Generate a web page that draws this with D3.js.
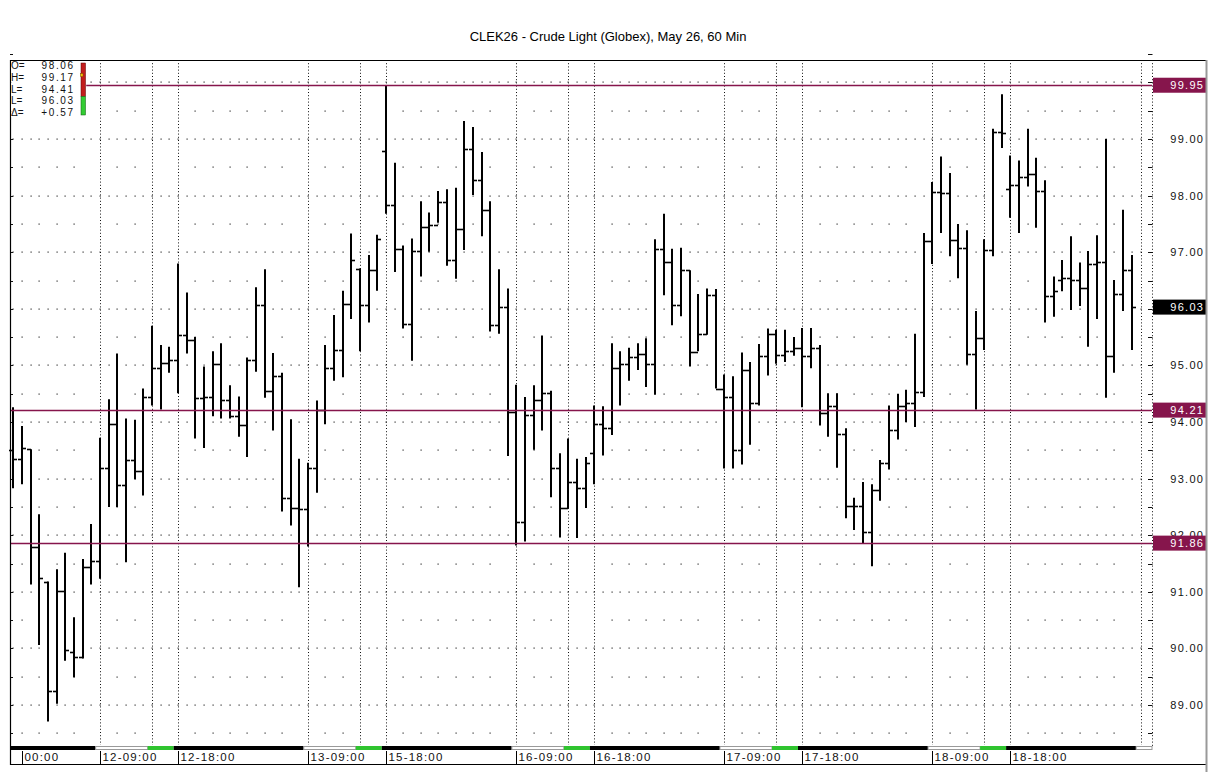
<!DOCTYPE html>
<html><head><meta charset="utf-8">
<script src="https://cdn.jsdelivr.net/npm/d3@7"></script>
<style>
body{margin:0;background:#fff;}
text{font-family:"Liberation Sans",Arial,Helvetica,sans-serif;}
</style>
</head><body>
<svg id="c" width="1213" height="772"></svg>
<script>
// ---------------- DATA ----------------
const chartTitle = "CLEK26 - Crude Light (Globex), May 26, 60 Min";
const opens = [93.50,93.35,93.52,91.80,91.18,89.25,91.02,89.94,89.84,91.43,
91.54,93.19,93.96,92.89,93.33,93.14,94.45,94.95,95.04,95.10,
95.54,95.45,94.43,94.44,95.03,94.39,94.11,93.94,95.10,96.07,
94.54,94.81,92.66,92.48,92.46,93.19,94.21,94.95,95.27,96.09,
96.70,96.07,96.68,98.78,97.84,97.06,95.74,97.02,97.45,97.48,
97.89,96.87,97.41,98.82,98.27,97.75,95.71,96.03,94.18,92.23,
94.13,94.38,94.51,93.19,92.48,92.94,92.83,93.45,93.96,93.89,
94.95,95.03,95.15,95.21,95.03,97.06,96.82,96.07,96.68,95.23,
95.55,96.25,94.59,94.44,93.50,94.92,94.33,95.16,95.55,95.19,
95.25,95.31,95.17,95.31,94.16,94.29,93.78,92.52,92.52,92.06,
92.79,93.27,93.85,94.29,94.33,94.53,97.19,98.07,98.05,97.21,
97.08,95.21,95.48,97.04,99.12,98.12,98.19,98.33,98.38,98.08,
96.22,96.51,96.55,96.51,96.36,96.79,96.82,95.17,96.26,96.68];
const highs = [94.26,93.93,93.52,92.37,91.18,91.40,91.69,90.55,91.58,92.20,
93.72,94.40,95.21,94.06,94.04,94.59,95.70,95.36,95.33,96.80,
96.29,95.50,94.98,95.25,95.39,94.65,94.45,95.14,96.38,96.70,
95.22,94.87,94.05,93.35,93.28,94.38,95.36,95.89,96.32,97.33,
96.71,96.95,97.31,99.95,98.58,97.12,97.24,97.90,97.70,98.08,
98.11,98.14,99.32,99.21,98.77,97.90,96.70,96.36,94.66,94.44,
94.65,95.53,94.55,93.45,93.71,93.35,93.38,94.29,94.28,95.39,
95.25,95.31,95.39,95.48,97.23,97.68,97.06,97.08,96.68,96.26,
96.36,96.35,94.84,94.81,95.23,95.06,95.38,95.65,95.63,95.63,
95.50,95.66,95.66,95.36,94.51,94.51,93.89,92.66,92.94,92.90,
93.33,94.29,94.50,94.57,95.56,97.34,98.24,98.69,98.40,97.50,
97.39,95.96,97.23,99.18,99.79,98.71,98.62,99.18,98.67,98.27,
96.57,96.86,97.28,96.82,97.02,97.30,99.00,96.51,97.75,96.95];
const lows = [92.83,92.90,91.13,90.06,88.71,89.02,89.78,89.49,89.82,91.13,
91.23,92.50,92.50,91.52,92.99,92.70,94.29,94.22,94.87,94.51,
95.21,93.71,93.54,94.10,94.06,94.06,93.74,93.38,94.89,94.43,
93.85,92.42,92.17,91.08,91.80,92.75,93.96,94.73,94.79,95.82,
95.25,95.76,96.32,97.68,96.65,95.65,95.08,96.57,97.01,97.52,
96.76,96.53,97.04,98.01,97.28,95.60,95.56,93.40,91.82,91.89,
93.51,93.85,92.67,91.96,92.48,91.95,92.48,92.90,93.41,93.77,
94.29,94.73,94.92,94.62,94.48,96.24,95.71,95.87,94.98,95.25,
95.54,94.59,93.18,93.18,93.25,93.60,94.29,94.82,95.03,95.06,
95.17,94.26,94.95,93.94,93.74,93.19,92.30,92.09,91.86,91.45,
92.61,93.16,93.69,94.00,93.91,94.44,96.79,97.34,96.93,96.54,
95.01,94.22,95.27,96.93,98.84,97.61,97.34,98.16,97.43,95.76,
95.86,96.31,95.98,96.05,95.33,95.82,94.43,94.87,95.96,95.27];
const closes = [93.35,93.54,91.80,91.24,89.25,91.02,89.97,89.84,91.43,91.54,
93.19,93.96,92.89,93.33,93.14,94.45,94.95,95.04,95.10,95.54,
95.45,94.43,94.44,95.03,94.39,94.11,93.94,95.10,96.07,94.54,
94.81,92.66,92.48,92.46,93.19,94.21,94.95,95.27,96.09,96.86,
96.07,96.68,97.23,97.84,97.06,95.74,97.02,97.45,97.48,97.89,
96.87,97.41,98.82,98.27,97.75,95.71,96.03,94.18,92.23,94.13,
94.38,94.51,93.19,92.48,92.94,92.83,93.27,93.96,93.89,94.95,
95.03,95.15,95.21,95.03,97.06,96.82,96.07,96.68,95.23,95.55,
96.25,94.59,94.44,93.50,94.92,94.33,95.16,95.55,95.19,95.25,
95.31,95.17,95.31,94.16,94.29,93.78,92.52,92.52,92.06,92.79,
93.27,93.85,94.29,94.33,94.53,97.19,98.07,98.05,97.21,97.08,
95.21,95.48,97.04,99.12,99.10,98.19,98.33,98.38,98.08,96.22,
96.31,96.55,96.51,96.36,96.79,96.82,95.17,96.26,96.68,96.03];

const timeLabels    = ["00:00","12-09:00","12-18:00","13-09:00","15-18:00","16-09:00","16-18:00","17-09:00","17-18:00","18-09:00","18-18:00"];
const timeLabelBars = [1,10,19,34,43,58,67,82,91,106,115];
const sessionLineBars = [10,16,19,34,40,43,58,64,67,82,88,91,106,112,115,130];
const sessionTypes = ["night","day","settle","night","day","settle","night","day","settle","night","day","settle","night","day","settle","night","day"];
const priceTickValues = [89,90,91,92,93,94,95,96,97,98,99,100];
const priceTickLabels = ["89.00","90.00","91.00","92.00","93.00","94.00","95.00","96.00","97.00","98.00","99.00","100.00"];
const refLevels = [99.95, 94.21, 91.86];
const refLabels = ["99.95","94.21","91.86"];
const lastPrice = 96.03;
const lastPriceLabel = "96.03";
const infoNames  = ["O=","H=","L=","L=","\u0394="];
const infoValues = ["98.06","99.17","94.41","96.03","+0.57"];

// ---------------- LAYOUT ----------------
const W = 1213, H = 772;
const plotL = 10, plotR = 1152, plotT = 60, plotB = 745;
const axisR = 1206;
const refColor = "#86154c";

const svg = d3.select("#c");
const x = d3.scaleLinear().domain([0,130]).range([13.3,1140.5]);
const y = d3.scaleLinear().domain([89,99]).range([705,139]);
const step = x(1) - x(0);
const nBars = opens.length;
const bars = d3.range(nBars).map(i => ({i, o:opens[i], h:highs[i], l:lows[i], c:closes[i]}));

// title
svg.append("text").attr("x",608).attr("y",41).attr("text-anchor","middle")
  .attr("font-size",13).attr("fill","#000").text(chartTitle);

// ---- grid: dense dotted rows at integer prices
const g = svg.append("g");
const denseIdx = d3.range(0,131);
priceTickValues.forEach(v => {
  const yy = Math.round(y(v));
  g.selectAll(null).data(denseIdx).enter().append("rect")
    .attr("x", d => Math.round(x(d)) - 0.5).attr("y", yy - 0.5)
    .attr("width",1.2).attr("height",1.2).attr("fill","#333");
});
// sparse rows at half values
const anchors = [-1].concat(sessionLineBars);
const sparseIdx = [];
for (let k=0;k<anchors.length-1;k++){
  for (let j=anchors[k]+2; j<anchors[k+1]-1; j+=2) sparseIdx.push(j);
}
priceTickValues.map(v => v - 0.5).forEach(v => {
  const yy = Math.round(y(v));
  g.selectAll(null).data(sparseIdx).enter().append("rect")
    .attr("x", d => Math.round(x(d)) - 0.5).attr("y", yy - 0.5)
    .attr("width",1.2).attr("height",1.2).attr("fill","#333");
});
// vertical session dotted lines
g.selectAll(null).data(sessionLineBars).enter().append("line")
  .attr("x1", d => Math.round(x(d)) + 0.5).attr("x2", d => Math.round(x(d)) + 0.5)
  .attr("y1", plotT).attr("y2", plotB)
  .attr("stroke","#111").attr("stroke-width",1).attr("stroke-dasharray","1,2.2");

// right axis dotted line + ticks
svg.append("line").attr("x1",plotR+0.5).attr("x2",plotR+0.5).attr("y1",plotT).attr("y2",plotB+3)
  .attr("stroke","#111").attr("stroke-width",1).attr("stroke-dasharray","1,2.2");
const halfTicks = d3.range(88.5, 100.6, 0.5);
svg.selectAll(null).data(halfTicks).enter().append("line")
  .attr("x1",plotR-4).attr("x2",plotR+0.5)
  .attr("y1",d=>Math.round(y(d))+0.5).attr("y2",d=>Math.round(y(d))+0.5)
  .attr("stroke","#111").attr("stroke-width",1);
// left ticks
svg.selectAll(null).data(halfTicks).enter().append("line")
  .attr("x1",plotL).attr("x2",plotL+3)
  .attr("y1",d=>Math.round(y(d))+0.5).attr("y2",d=>Math.round(y(d))+0.5)
  .attr("stroke","#111").attr("stroke-width",1);

// right axis labels
const lblSpacing = 1.3;
svg.selectAll(null).data(priceTickValues).enter().append("text")
  .attr("x", 1203 + lblSpacing).attr("y", d => y(d) + 4)
  .attr("text-anchor","end").attr("font-size",11).attr("letter-spacing",lblSpacing)
  .attr("fill","#111").text((d,k) => priceTickLabels[k]);

// ---- OHLC bars
const bg = svg.append("g").attr("stroke","#000");
bg.selectAll(null).data(bars).enter().append("line")
  .attr("x1",d=>Math.round(x(d.i))).attr("x2",d=>Math.round(x(d.i)))
  .attr("y1",d=>y(d.h)).attr("y2",d=>y(d.l)).attr("stroke-width",2);
bg.selectAll(null).data(bars).enter().append("line")
  .attr("x1",d=>Math.round(x(d.i))-4).attr("x2",d=>Math.round(x(d.i)))
  .attr("y1",d=>Math.round(y(d.o))+0.5).attr("y2",d=>Math.round(y(d.o))+0.5).attr("stroke-width",1.6);
bg.selectAll(null).data(bars).enter().append("line")
  .attr("x1",d=>Math.round(x(d.i))).attr("x2",d=>Math.round(x(d.i))+4)
  .attr("y1",d=>Math.round(y(d.c))+0.5).attr("y2",d=>Math.round(y(d.c))+0.5).attr("stroke-width",1.6);

// ---- reference lines
const refStart = [86, plotL, plotL];
svg.selectAll(null).data(refLevels).enter().append("line")
  .attr("x1",(d,k)=>refStart[k]).attr("x2",plotR)
  .attr("y1",d=>Math.round(y(d))+0.5).attr("y2",d=>Math.round(y(d))+0.5)
  .attr("stroke",refColor).attr("stroke-width",1.3);

// ---- level label boxes
svg.selectAll(null).data(refLevels).enter().append("rect")
  .attr("x",plotR+1).attr("y",d=>y(d)-7.5).attr("width",axisR-plotR-1).attr("height",15)
  .attr("fill",refColor);
svg.selectAll(null).data(refLevels).enter().append("text")
  .attr("x",1203+lblSpacing).attr("y",d=>y(d)+4).attr("text-anchor","end")
  .attr("font-size",11).attr("letter-spacing",lblSpacing).attr("fill","#fff")
  .text((d,k)=>refLabels[k]);
svg.append("rect").attr("x",plotR+1).attr("y",y(lastPrice)-7.5).attr("width",axisR-plotR-1).attr("height",15).attr("fill","#000");
svg.append("text").attr("x",1203+lblSpacing).attr("y",y(lastPrice)+4).attr("text-anchor","end")
  .attr("font-size",11).attr("letter-spacing",lblSpacing).attr("fill","#fff").text(lastPriceLabel);

// ---- session strip
const breaks = sessionLineBars.map(b => x(b) - step/2);
const edges = [plotL].concat(breaks).concat([plotR]);
const segs = sessionTypes.map((t,k)=>({t, x0:edges[k], x1:edges[k+1]}));
const stripY = 746, stripH = 4;
svg.selectAll(null).data(segs).enter().append("rect")
  .attr("x",d=>d.x0).attr("y",d=> d.t==="day" ? stripY+0.5 : stripY)
  .attr("width",d=>d.x1-d.x0).attr("height",d=> d.t==="day" ? stripH-1 : stripH)
  .attr("fill",d=> d.t==="night" ? "#000" : d.t==="settle" ? "#2fc42f" : "#fff")
  .attr("stroke",d=> d.t==="day" ? "#9a9a9a" : "none").attr("stroke-width",1);

// ---- time labels
const tl = svg.append("g");
tl.selectAll(null).data(timeLabelBars).enter().append("line")
  .attr("x1",d=>Math.round(x(d))+0.5).attr("x2",d=>Math.round(x(d))+0.5)
  .attr("y1",751).attr("y2",764).attr("stroke","#000").attr("stroke-width",1);
tl.selectAll(null).data(timeLabelBars).enter().append("text")
  .attr("x",d=>Math.round(x(d))+2.5).attr("y",761)
  .attr("font-size",11.5).attr("letter-spacing",1.2).attr("fill","#111")
  .text((d,k)=>timeLabels[k]);

// ---- frame
svg.append("line").attr("x1",plotL).attr("x2",axisR).attr("y1",plotT+0.5).attr("y2",plotT+0.5).attr("stroke","#000").attr("stroke-width",1.2);
svg.append("line").attr("x1",plotL+0.5).attr("x2",plotL+0.5).attr("y1",plotT).attr("y2",765).attr("stroke","#000").attr("stroke-width",1.2);
svg.append("line").attr("x1",plotL).attr("x2",axisR).attr("y1",764.5).attr("y2",764.5).attr("stroke","#000").attr("stroke-width",1);
svg.append("line").attr("x1",axisR+0.5).attr("x2",axisR+0.5).attr("y1",plotT).attr("y2",H).attr("stroke","#999").attr("stroke-width",2);

// ---- info box (top-left)
svg.append("rect").attr("x",plotL+1.2).attr("y",plotT+1.2).attr("width",75).attr("height",56).attr("fill","#fff");
const info = svg.append("g");
info.selectAll(null).data(infoNames).enter().append("text")
  .attr("x",11).attr("y",(d,k)=>69.3 + k*11.6).attr("font-size",10).attr("fill","#111").text(d=>d);
info.selectAll(null).data(infoValues).enter().append("text")
  .attr("x",73+1.6).attr("y",(d,k)=>69.3 + k*11.6).attr("text-anchor","end")
  .attr("font-size",10).attr("letter-spacing",1.6).attr("fill","#111").text(d=>d);
// mini range bar
svg.append("rect").attr("x",81).attr("y",63).attr("width",4.5).attr("height",33.5).attr("fill","#c21d1d").attr("stroke","#5a0000").attr("stroke-width",0.5);
svg.append("rect").attr("x",81).attr("y",96.5).attr("width",4.5).attr("height",18.5).attr("fill","#33cc33").attr("stroke","#0a5a0a").attr("stroke-width",0.5);
svg.append("rect").attr("x",80.5).attr("y",73.5).attr("width",2.5).attr("height",3).attr("fill","#f5c400").attr("stroke","#7a4a00").attr("stroke-width",0.5);
</script>
</body></html>
